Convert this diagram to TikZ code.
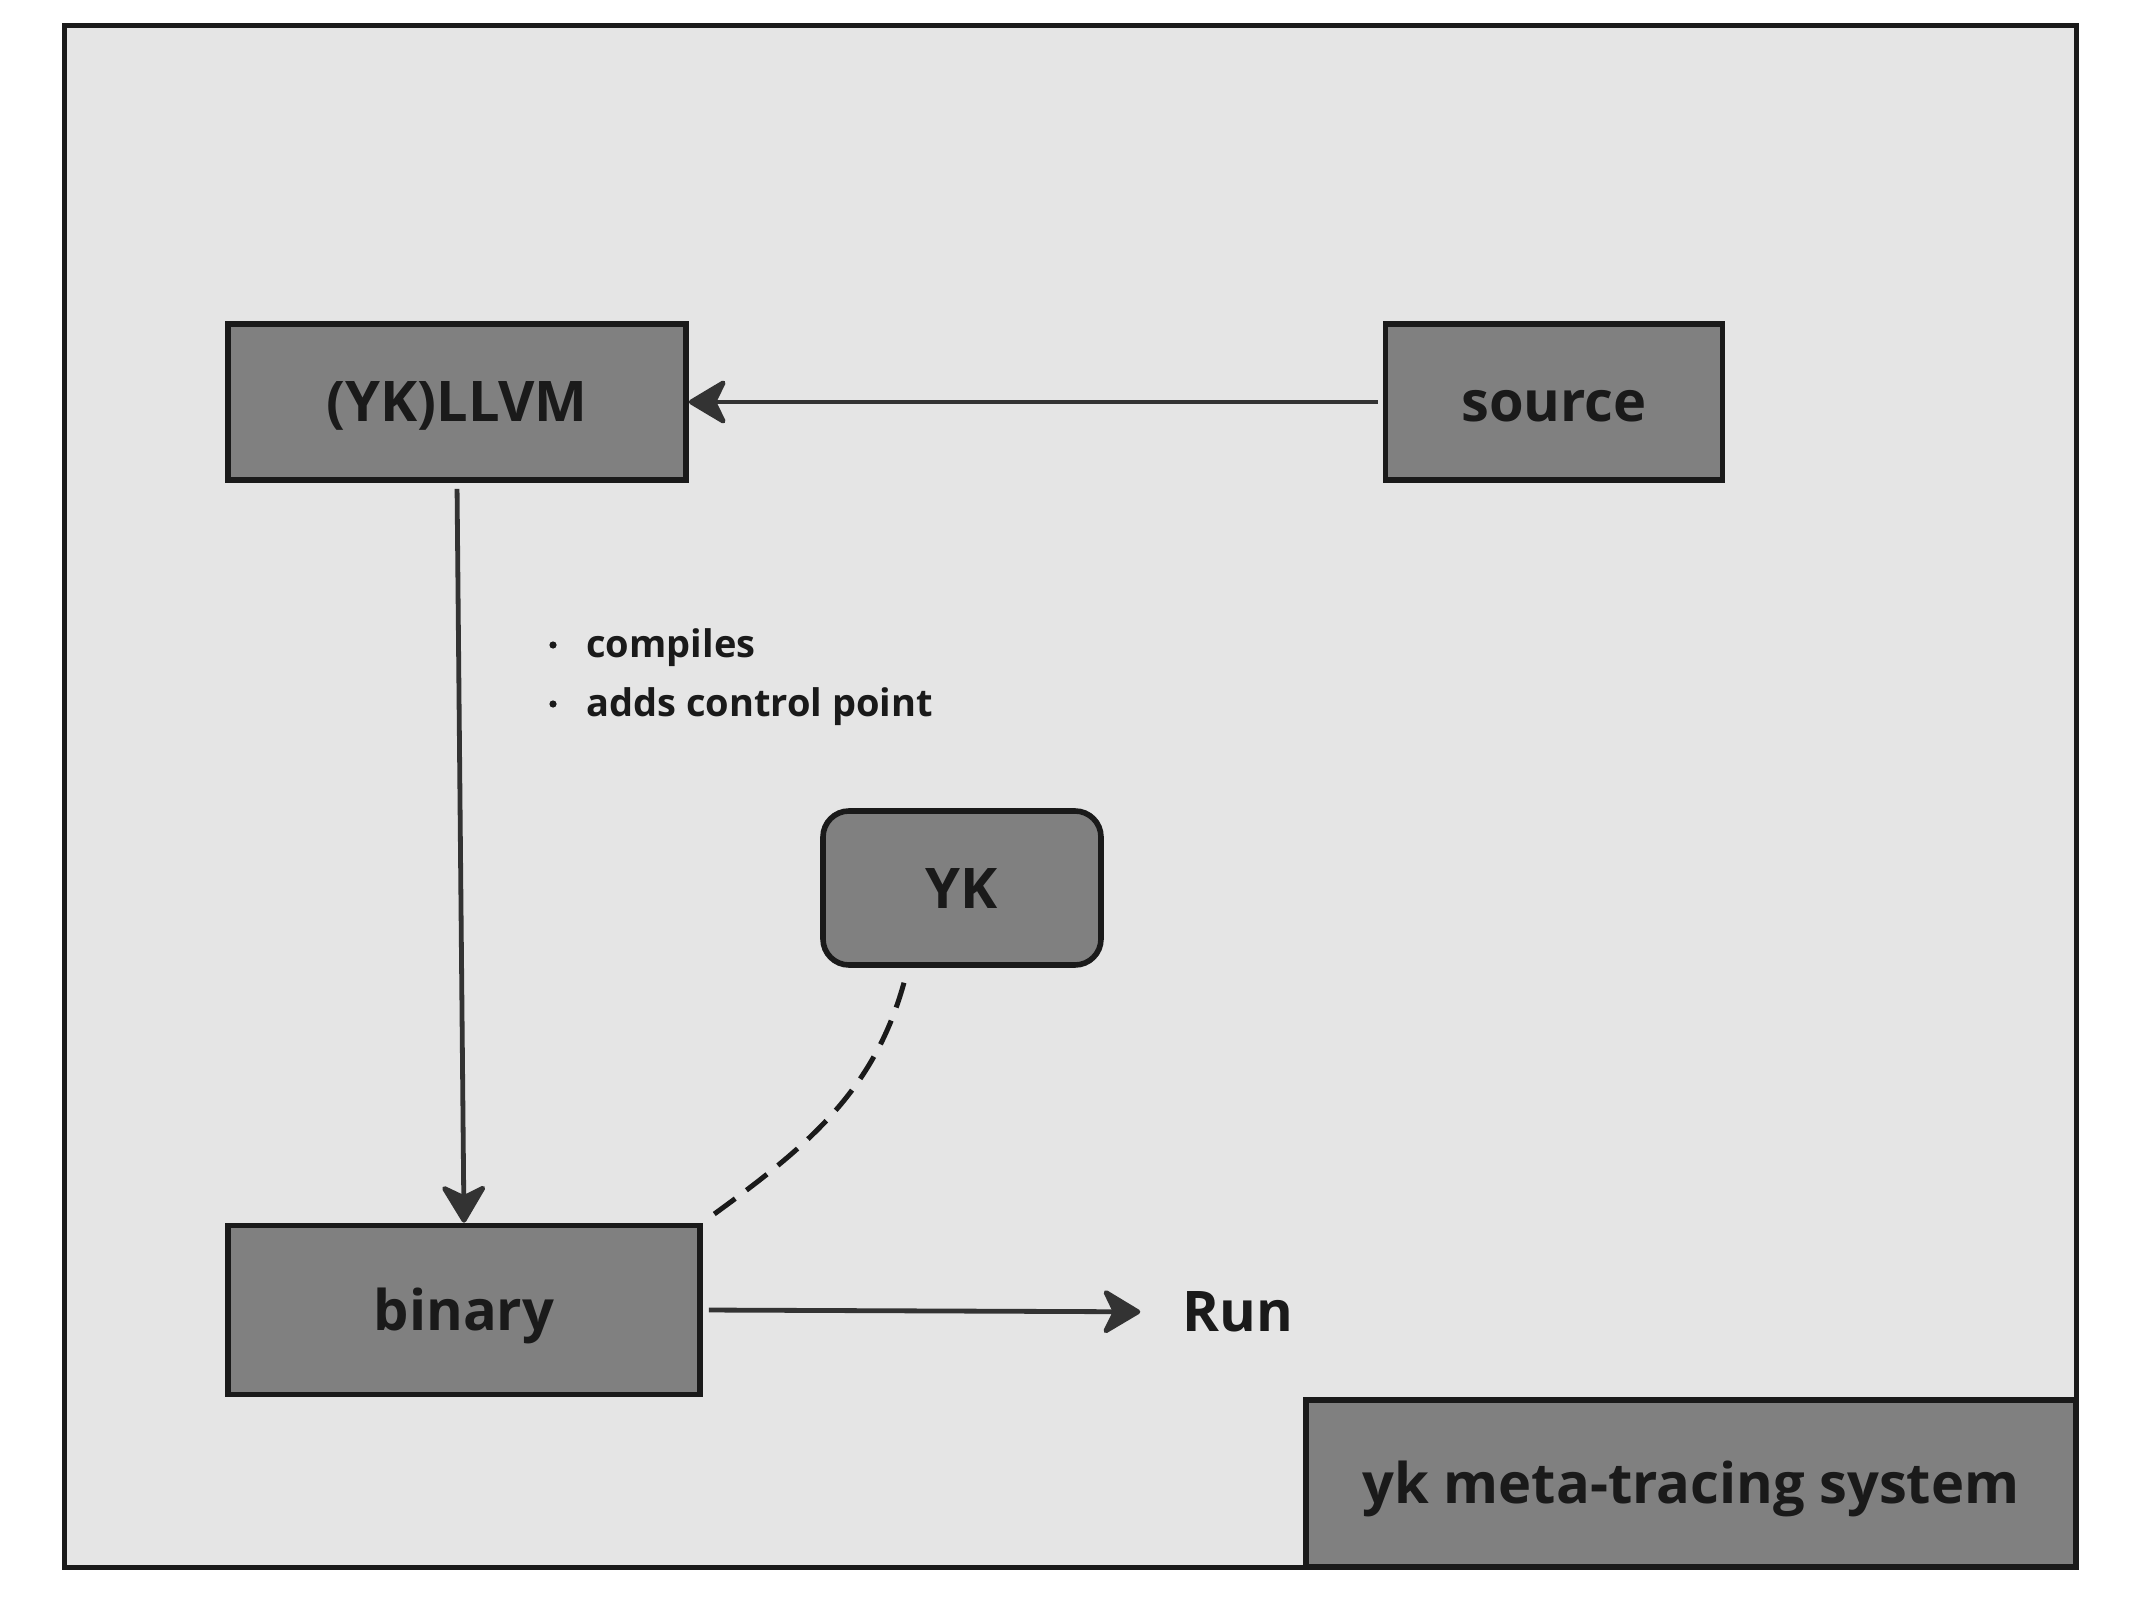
\documentclass[tikz,border=0pt]{standalone}
\usepackage{fontspec}
\setmainfont{Open Sans}
\usetikzlibrary{arrows.meta,calc}
\definecolor{framefill}{HTML}{E5E5E5}
\definecolor{boxfill}{HTML}{808080}
\definecolor{ink}{HTML}{1A1A1A}
\definecolor{wire}{HTML}{333333}
\tikzset{
  boxnode/.style={draw=ink, line width=2.8pt, fill=boxfill, text=ink, font=\fontsize{28}{32}\selectfont\bfseries, inner sep=0pt, text height=20pt, text depth=0pt},
  conn/.style={draw=wire, line width=2.4pt, -{Stealth[length=21pt,width=25pt,inset=6pt,round]}},
  dashconn/.style={draw=ink, line width=2.5pt, dash pattern=on 13pt off 7pt},
  labeltext/.style={text=ink, font=\fontsize{28}{32}\selectfont\bfseries, inner sep=0pt},
  bullettext/.style={text=ink, font=\fontsize{19}{22}\selectfont\bfseries, inner sep=0pt, anchor=west},
  bulletdot/.style={circle, fill=ink, inner sep=0pt, minimum size=3.6pt}
}
\begin{document}
\begin{tikzpicture}[x=0.5pt,y=-0.5pt]
\useasboundingbox (0,0) rectangle (2137,1610);
\fill[white] (0,0) rectangle (2137,1610);
\draw[draw=ink, line width=2.5pt, fill=framefill] (64,26) rectangle (2076,1567);
\node[boxnode, minimum width=385pt, minimum height=83.5pt] (meta) at (1691,1483.5) {yk meta-tracing system};
\draw[draw=ink, line width=2.5pt] (64,26) rectangle (2076,1567);
\node[boxnode, minimum width=229pt, minimum height=78pt] (llvm) at (457,402) {(YK)LLVM};
\node[boxnode, minimum width=168.5pt, minimum height=78pt] (source) at (1554,402) {source};
\node[boxnode, minimum width=236pt, minimum height=84.5pt] (binary) at (464,1310) {binary};
\node[boxnode, rounded corners=13pt, minimum width=139pt, minimum height=77pt] (yk) at (962,888) {YK};
\node[labeltext] (run) at (1238,1312) {Run};
\node[bulletdot] (d1) at (553,645) {};
\node[bullettext] (b1) at (586,648) {compiles};
\node[bulletdot] (d2) at (553,704) {};
\node[bullettext] (b2) at (586,707) {adds control point};
\draw[conn, shorten <=3pt] (llvm.south) -- (binary.north);
\draw[conn, shorten <=2.5pt] (source.west) -- (llvm.east);
\draw[conn, shorten <=3pt, shorten >=21pt] (binary.east) -- (run.west);
\coordinate (ykfoot) at ($(yk.south)+(-54,0)$);
\draw[dashconn, shorten <=4pt, shorten >=6pt] ($(binary.north east)+(5,-4)$) to[out=36,in=-105] (ykfoot);
\end{tikzpicture}
\end{document}
